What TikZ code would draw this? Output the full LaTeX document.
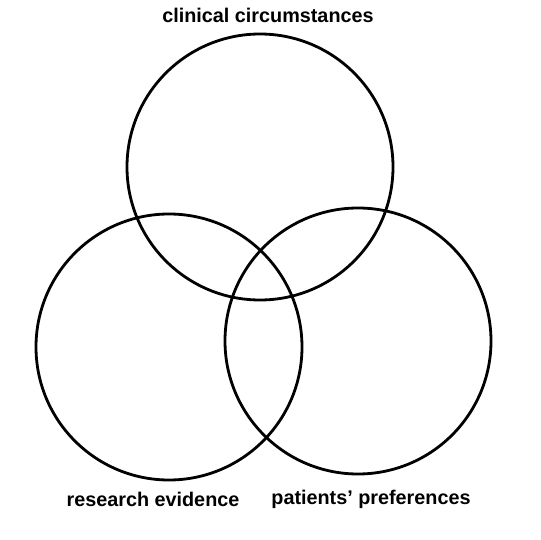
\documentclass[tikz,border=0pt]{standalone}
\usepackage{fontspec}
\setmainfont{Liberation Sans}
\begin{document}
\begin{tikzpicture}[x=1pt,y=-1pt,
  ring/.style={draw=black,line width=2.8pt},
  lbl/.style={font=\bfseries\fontsize{19.8}{23}\selectfont,inner sep=0pt}]
\useasboundingbox[fill=white] (0,0) rectangle (541,540);
\node[ring,circle,minimum size=266pt,inner sep=0pt] (top) at (260,167) {};
\node[ring,circle,minimum size=266pt,inner sep=0pt] (left) at (169,347) {};
\node[ring,circle,minimum size=266pt,inner sep=0pt] (right) at (358,341) {};
\node[lbl] (tl) at (268,15) {clinical circumstances};
\node[lbl] (ll) at (153,499) {research evidence};
\node[lbl] (rl) at (371,499) {patients’ preferences};
\end{tikzpicture}
\end{document}
